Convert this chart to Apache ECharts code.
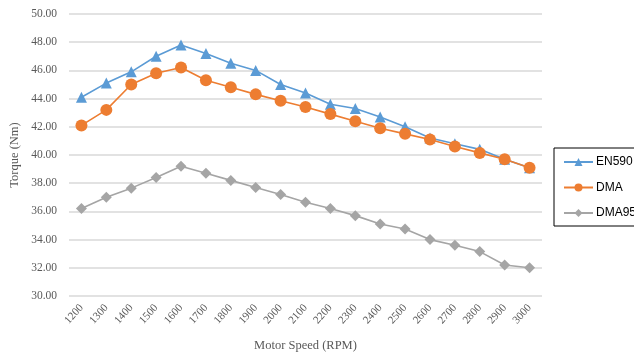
<!DOCTYPE html>
<html>
<head>
<meta charset="utf-8">
<script src="https://cdn.jsdelivr.net/npm/echarts@6/dist/echarts.min.js"></script>
<style>
  html, body { margin: 0; padding: 0; background: #fff; }
  #chart { width: 634px; height: 355px; }
</style>
</head>
<body>
<div id="chart"></div>
<script>
// Motor speed steps (RPM)
const speeds = ['1200','1300','1400','1500','1600','1700','1800','1900','2000','2100',
                '2200','2300','2400','2500','2600','2700','2800','2900','3000'];

// Torque (Nm) per fuel
const en590 = [44.1, 45.1, 45.9, 47.0, 47.8, 47.2, 46.5, 46.0, 45.0, 44.4,
               43.6, 43.3, 42.7, 42.0, 41.2, 40.8, 40.4, 39.7, 39.1];
const dma   = [42.1, 43.2, 45.0, 45.8, 46.2, 45.3, 44.8, 44.3, 43.85, 43.4,
               42.9, 42.4, 41.9, 41.5, 41.1, 40.6, 40.15, 39.7, 39.1];
const dma95 = [36.2, 37.0, 37.65, 38.4, 39.2, 38.7, 38.2, 37.7, 37.2, 36.65,
               36.2, 35.7, 35.1, 34.75, 34.0, 33.6, 33.15, 32.2, 32.0];

const seriesNames = ['EN590', 'DMA', 'DMA95'];

const serif = 'Liberation Serif, Times New Roman, serif';
const sans = 'Liberation Sans, Arial, sans-serif';

const chart = echarts.init(document.getElementById('chart'), null, { renderer: 'canvas' });

function lineSeries(name, data, color, symbol, size) {
  return {
    name: name,
    type: 'line',
    data: data,
    symbol: symbol,
    symbolSize: size,
    itemStyle: { color: color },
    lineStyle: { color: color, width: 1.6 },
    emphasis: { disabled: true },
    animation: false
  };
}

chart.setOption({
  animation: false,
  backgroundColor: '#ffffff',
  grid: { left: 69, right: 92, top: 14, bottom: 59, outerBoundsMode: 'none', containLabel: false },
  legend: {
    data: seriesNames,
    orient: 'vertical',
    left: 554,
    top: 148,
    itemWidth: 29,
    itemHeight: 10,
    itemGap: 13.5,
    padding: [8, 4, 7, 9],
    borderColor: '#000000',
    borderWidth: 1,
    backgroundColor: '#ffffff',
    textStyle: { fontFamily: sans, fontSize: 12, color: '#000000', padding: [0, 0, 0, -2] }
  },
  xAxis: {
    type: 'category',
    data: speeds,
    boundaryGap: true,
    name: 'Motor Speed (RPM)',
    nameLocation: 'middle',
    nameGap: 43,
    nameMoveOverlap: false,
    nameTextStyle: { fontFamily: serif, fontSize: 12.5, color: '#595959' },
    axisLine: { show: false },
    axisTick: { show: false },
    axisLabel: {
      rotate: 48,
      margin: 10,
      fontFamily: serif,
      fontSize: 11,
      color: '#595959'
    }
  },
  yAxis: {
    type: 'value',
    min: 30,
    max: 50,
    interval: 2,
    name: 'Torque (Nm)',
    nameLocation: 'middle',
    nameGap: 48,
    nameMoveOverlap: false,
    nameTextStyle: { fontFamily: serif, fontSize: 12.5, color: '#595959' },
    axisLine: { show: false },
    axisTick: { show: false },
    axisLabel: {
      margin: 12,
      fontFamily: serif,
      fontSize: 11.5,
      color: '#595959',
      formatter: v => v.toFixed(2)
    },
    splitLine: { lineStyle: { color: '#d9d9d9', width: 1.5 } }
  },
  series: [
    lineSeries('EN590', en590, '#5B9BD5', 'triangle', 11),
    lineSeries('DMA', dma, '#ED7D31', 'circle', 12),
    lineSeries('DMA95', dma95, '#A5A5A5', 'diamond', 11)
  ]
});
</script>
</body>
</html>
